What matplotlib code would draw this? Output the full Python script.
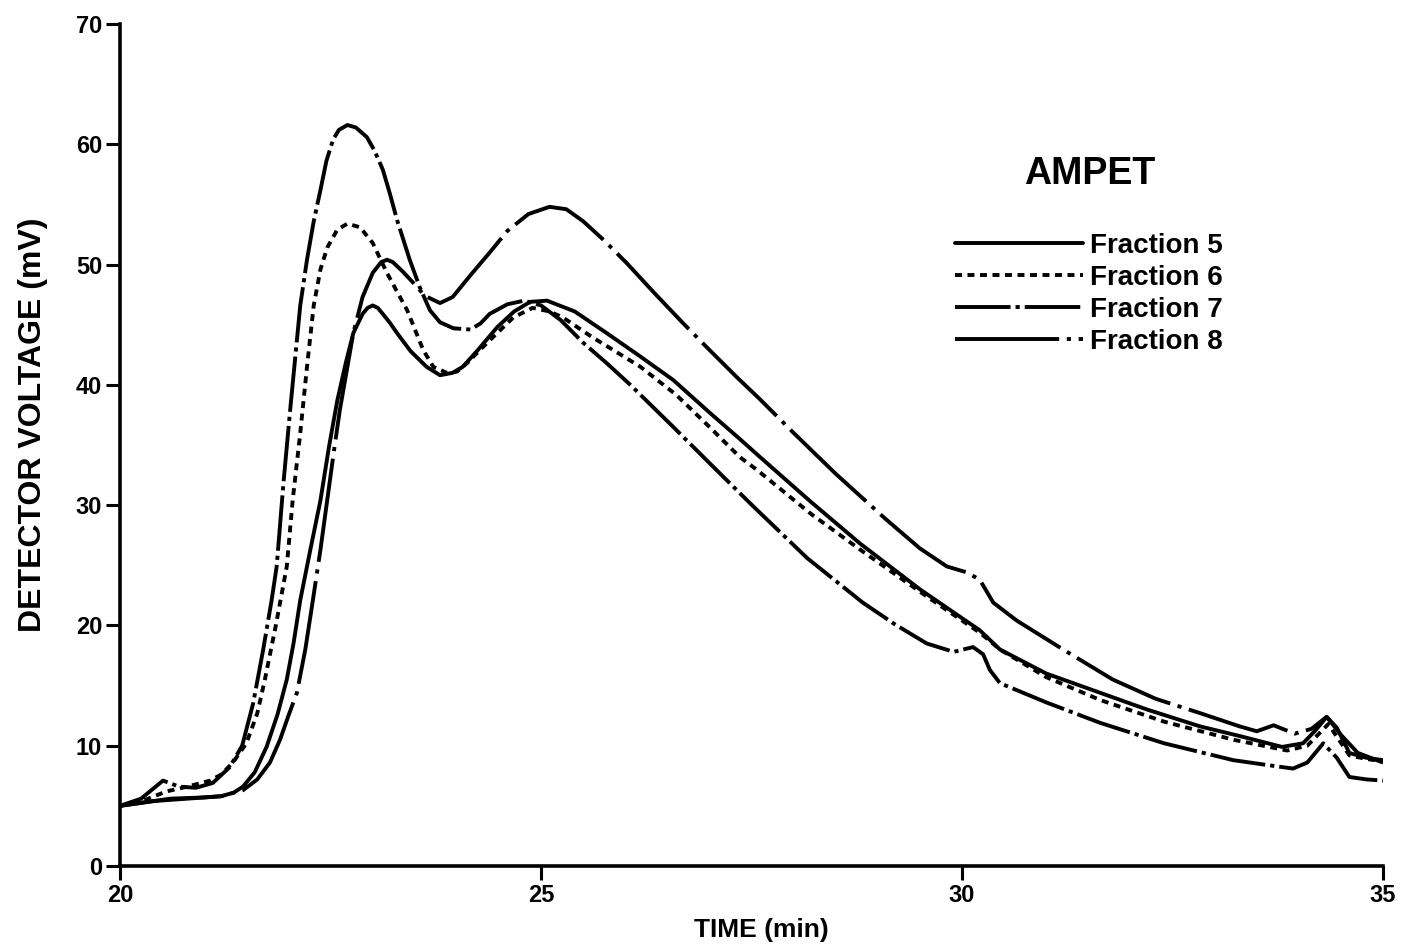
import matplotlib
matplotlib.use("Agg")
import matplotlib.pyplot as plt

plt.rcParams["font.family"] = ["Liberation Sans", "DejaVu Sans"]
plt.rcParams["font.weight"] = "bold"
plt.rcParams["lines.scale_dashes"] = False

# ── Values (time in min, voltage in mV) ───────────────────────────────────────
t5 = [20.0, 20.3, 20.6, 21.0, 21.2, 21.35, 21.46, 21.6, 21.74, 21.87, 21.98, 22.06,
      22.14, 22.26, 22.38, 22.48, 22.58, 22.68, 22.77, 22.88, 22.94, 23.0, 23.06, 23.12,
      23.2, 23.29, 23.45, 23.64, 23.8, 23.95, 24.07, 24.25, 24.48, 24.68, 24.87, 25.07,
      25.4, 25.78, 26.17, 26.57, 27.0, 27.36, 27.6, 28.2, 28.79, 29.5, 30.0, 30.21,
      30.45, 31.0, 31.64, 32.2, 32.83, 33.3, 33.8, 34.05, 34.2, 34.33, 34.45, 34.6,
      34.8, 35.0]
v5 = [5.0, 5.3, 5.6, 5.7, 5.8, 6.1, 6.6, 7.8, 9.9, 12.6, 15.5, 18.5,
      22.1, 26.3, 30.4, 34.8, 38.7, 41.8, 44.3, 45.9, 46.4, 46.6, 46.4, 45.9,
      45.2, 44.3, 42.8, 41.5, 40.8, 41.0, 41.5, 42.9, 44.8, 46.1, 46.9, 47.0,
      46.1, 44.3, 42.4, 40.4, 37.7, 35.5, 34.0, 30.3, 26.8, 23.0, 20.6, 19.6,
      18.0, 16.0, 14.4, 13.0, 11.6, 10.8, 9.9, 10.2, 11.3, 12.4, 11.5, 9.4,
      9.0, 8.8]

t6 = [20.0, 20.3, 20.55, 20.8, 21.07, 21.2, 21.34, 21.5, 21.63, 21.72, 21.85, 21.98,
      22.05, 22.14, 22.22, 22.3, 22.38, 22.46, 22.58, 22.7, 22.85, 23.0, 23.17, 23.41,
      23.6, 23.72, 23.88, 24.0, 24.12, 24.36, 24.67, 24.9, 25.1, 25.26, 25.6, 26.18,
      26.6, 27.0, 27.36, 27.57, 28.2, 28.79, 29.5, 30.0, 30.21, 30.45, 31.0, 31.64,
      32.4, 33.22, 33.86, 34.1, 34.35, 34.6, 34.8, 35.0]
v6 = [5.0, 5.5, 6.2, 6.6, 7.1, 7.6, 8.6, 10.2, 12.7, 15.5, 20.0, 24.9,
      30.4, 36.0, 41.5, 46.6, 49.6, 51.4, 52.9, 53.4, 53.1, 51.8, 49.3, 46.2,
      42.9, 41.5, 41.0, 41.1, 41.8, 43.5, 45.6, 46.4, 46.1, 45.6, 44.0, 41.5,
      39.2, 36.5, 34.0, 32.9, 29.3, 26.3, 22.8, 20.4, 19.4, 18.0, 15.7, 13.8,
      12.0, 10.5, 9.6, 10.0, 11.8, 9.2, 8.9, 8.7]

t7 = [20.0, 20.25, 20.51, 20.7, 20.9, 21.1, 21.3, 21.45, 21.58, 21.7, 21.8, 21.86,
      21.94, 22.02, 22.1, 22.14, 22.22, 22.3, 22.38, 22.45, 22.53, 22.6, 22.7, 22.8,
      22.93, 23.02, 23.12, 23.2, 23.29, 23.44, 23.56, 23.68, 23.8, 23.96, 24.16, 24.28,
      24.39, 24.6, 24.8, 25.0, 25.23, 25.5, 25.78, 26.06, 26.57, 27.0, 27.36, 27.52,
      28.16, 28.82, 29.2, 29.58, 29.9, 30.13, 30.25, 30.33, 30.45, 31.0, 31.64, 32.4,
      33.22, 33.62, 33.93, 34.1, 34.29, 34.45, 34.6, 34.8, 35.0]
v7 = [5.0, 5.6, 7.1, 6.6, 6.5, 6.9, 8.2, 10.0, 13.5, 18.0, 22.1, 24.9,
      31.8, 37.9, 43.7, 46.6, 50.4, 53.6, 56.2, 58.6, 60.4, 61.2, 61.6, 61.4,
      60.6, 59.5, 57.9, 56.0, 53.7, 50.4, 48.1, 46.2, 45.2, 44.7, 44.6, 45.1,
      45.9, 46.7, 47.0, 46.6, 45.4, 43.5, 41.8, 40.0, 36.5, 33.5, 31.0, 29.9,
      25.6, 21.9, 20.1, 18.5, 17.8, 18.2, 17.6, 16.3, 15.2, 13.6, 11.9, 10.2,
      8.8, 8.4, 8.1, 8.6, 10.2, 9.0, 7.4, 7.2, 7.1]

t8 = [20.0, 20.4, 20.8, 21.2, 21.46, 21.63, 21.78, 21.9, 22.0, 22.1, 22.2, 22.29,
      22.38, 22.46, 22.54, 22.61, 22.7, 22.77, 22.88, 23.0, 23.1, 23.17, 23.24, 23.36,
      23.48, 23.62, 23.8, 23.95, 24.16, 24.39, 24.6, 24.85, 25.1, 25.3, 25.5, 25.75,
      26.02, 26.35, 26.69, 27.0, 27.33, 27.6, 28.0, 28.5, 29.1, 29.5, 29.82, 30.06,
      30.21, 30.37, 30.65, 31.2, 31.79, 32.3, 32.83, 33.3, 33.5, 33.7, 33.95, 34.15,
      34.33, 34.5, 34.7, 35.0]
v8 = [5.0, 5.4, 5.6, 5.8, 6.3, 7.2, 8.6, 10.5, 12.5, 14.4, 18.0, 22.1,
      26.3, 30.4, 34.5, 37.9, 41.5, 44.3, 47.3, 49.3, 50.2, 50.4, 50.2, 49.4,
      48.5, 47.4, 46.8, 47.3, 49.1, 51.0, 52.8, 54.2, 54.8, 54.6, 53.6, 52.0,
      50.1, 47.6, 45.1, 42.9, 40.6, 38.8, 36.0, 32.6, 28.8, 26.4, 24.9, 24.4,
      23.8, 21.9, 20.4, 18.0, 15.5, 13.9, 12.7, 11.6, 11.2, 11.7, 11.0, 11.4,
      12.4, 10.9, 9.4, 8.6]

labels = ["Fraction 5", "Fraction 6", "Fraction 7", "Fraction 8"]
x_ticks = [20, 25, 30, 35]
y_ticks = [0, 10, 20, 30, 40, 50, 60, 70]

# dash patterns in points (scale_dashes off)
styles = [
    "-",
    (0, (5, 4)),
    (0, (40, 3.6, 3, 3.6)),
    (0, (75, 5.5, 3, 5.5)),
]

fig = plt.figure(figsize=(14.01, 9.48), dpi=100)
ax = fig.add_axes([0.0857, 0.0865, 0.9015, 0.8882])

lines = []
for (t, v), ls, lab in zip([(t5, v5), (t6, v6), (t7, v7), (t8, v8)], styles, labels):
    ln, = ax.plot(t, v, color="black", linewidth=2.8, linestyle=ls,
                  dash_capstyle="butt", solid_capstyle="round",
                  solid_joinstyle="round", label=lab)
    lines.append(ln)

ax.set_xlim(20, 35)
ax.set_ylim(0, 70)
ax.set_xticks(x_ticks)
ax.set_yticks(y_ticks)
ax.tick_params(direction="out", length=10, width=2.2, labelsize=17, pad=3)
for lbl in ax.get_xticklabels() + ax.get_yticklabels():
    lbl.set_fontweight("bold")

for side in ["top", "right"]:
    ax.spines[side].set_visible(False)
for side in ["left", "bottom"]:
    ax.spines[side].set_linewidth(2.6)

ax.set_xlabel("TIME (min)", fontsize=19, fontweight="bold")
ax.set_ylabel("DETECTOR VOLTAGE (mV)", fontsize=23, fontweight="bold")
ax.xaxis.set_label_coords(0.508, -0.076)
ax.yaxis.set_label_coords(-0.069, 0.524)
ax.xaxis.label.set_va("center")
ax.yaxis.label.set_va("center")

# ── Legend block with its heading ─────────────────────────────────────────────
ax.text(0.768, 0.822, "AMPET", transform=ax.transAxes, ha="center", va="center",
        fontsize=27, fontweight="bold")
ax.legend(handles=lines, loc="upper left", bbox_to_anchor=(0.661, 0.752),
          frameon=False, fontsize=20, handlelength=4.6, handletextpad=0.25,
          labelspacing=0.22, borderpad=0, borderaxespad=0)

fig.savefig("out.png", dpi=100)
